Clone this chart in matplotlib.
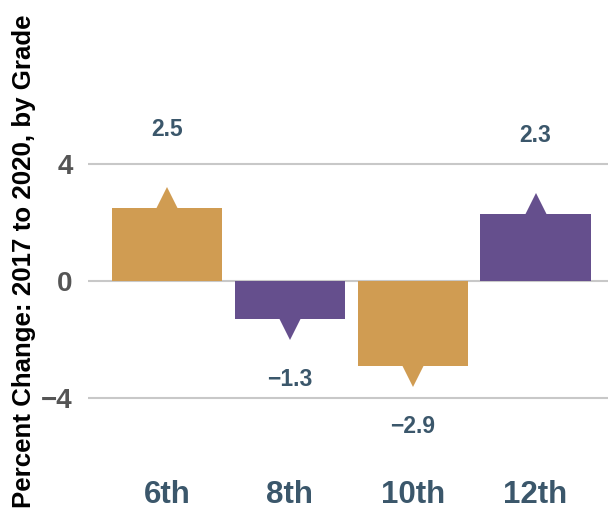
import numpy as np
import matplotlib
matplotlib.use("Agg")
import matplotlib.pyplot as plt

grades = ["6th", "8th", "10th", "12th"]
changes = [2.5, -1.3, -2.9, 2.3]
colors = ["#D09C52", "#654F8D", "#D09C52", "#654F8D"]
yticks = [-4, 0, 4]
ytick_labels = ["\u22124", "0", "4"]

plt.rcParams['font.family'] = ['Liberation Sans', 'DejaVu Sans']
plt.rcParams['font.weight'] = 'bold'

label_col = "#3B576B"

fig = plt.figure(figsize=(6.08, 5.13), dpi=100)
ax = fig.add_axes([88 / 608, 56.7 / 513, 520 / 608, 456.3 / 513])

x = np.arange(len(grades))
ax.bar(x, changes, width=0.9, color=colors, zorder=2)

for xi, v, c in zip(x, changes, colors):
    mk = '^' if v > 0 else 'v'
    ax.plot(xi, v, marker=mk, markersize=30, color=c, markeredgewidth=0, zorder=3)
    off = 56 if v > 0 else -44
    txt = f"{v:.1f}".replace("-", "\u2212")
    ax.annotate(txt, (xi, v), xytext=(0, off), textcoords='offset points',
                ha='center', va='center', fontsize=16.5, fontweight='bold', color=label_col)

ax.set_xlim(-0.645, 3.59)
ax.set_ylim(-6, 9.6)
ax.set_yticks(yticks)
ax.set_yticklabels(ytick_labels)
ax.set_xticks(x)
ax.set_xticklabels(grades)
ax.grid(axis='y', color='#C8C8C8', linewidth=1.5, zorder=0)
ax.set_axisbelow(True)
for s in ax.spines.values():
    s.set_visible(False)
ax.tick_params(axis='y', length=0, pad=11, labelsize=20, labelcolor='#555555')
ax.tick_params(axis='x', length=0, pad=17, labelsize=22.5, labelcolor=label_col)

fig.text(24 / 608, 0.491, "Percent Change: 2017 to 2020, by Grade", rotation=90,
         ha='center', va='center', fontsize=18.6, fontweight='bold', color='black')

fig.savefig("out.png", dpi=100)
